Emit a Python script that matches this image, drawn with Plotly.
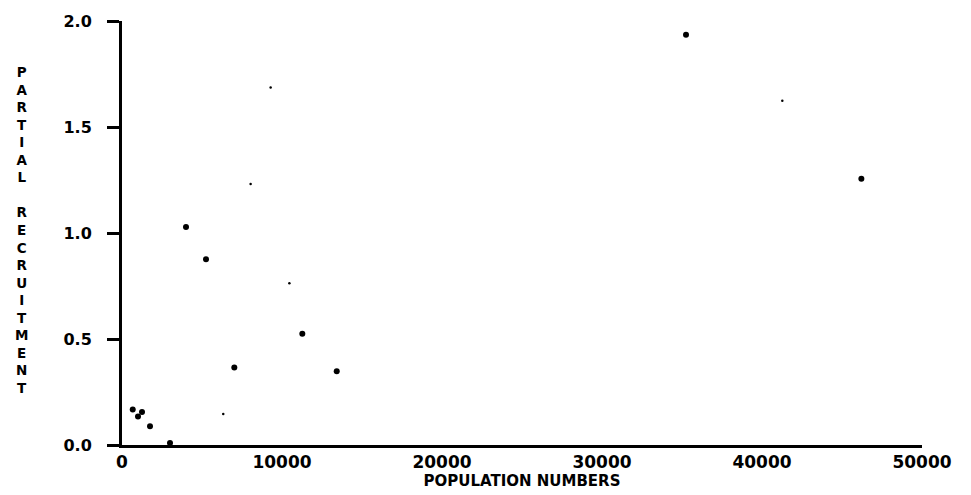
import plotly.graph_objects as go

# Partial recruitment against population numbers
large_x = [670, 1000, 1250, 1750, 3000, 4000, 5250, 7020, 11270, 13420, 35250, 46210]
large_y = [0.167, 0.135, 0.156, 0.088, 0.01, 1.028, 0.876, 0.366, 0.525, 0.348, 1.935, 1.256]

small_x = [6330, 8040, 9290, 10460, 41270]
small_y = [0.146, 1.231, 1.686, 0.763, 1.624]

x_ticks = [0, 10000, 20000, 30000, 40000, 50000]
y_ticks = [0.0, 0.5, 1.0, 1.5, 2.0]
y_title = "PARTIAL RECRUITMENT"
x_title = "POPULATION NUMBERS"

W, H = 971, 495
M_L, M_R, M_T, M_B = 122, 49, 21, 50
PLOT_W = W - M_L - M_R
PLOT_H = H - M_T - M_B

FONT = dict(family="DejaVu Sans", color="black", weight="bold")

fig = go.Figure()
fig.add_trace(go.Scatter(
    x=large_x, y=large_y, mode="markers",
    marker=dict(size=6, color="black"), showlegend=False,
))
fig.add_trace(go.Scatter(
    x=small_x, y=small_y, mode="markers",
    marker=dict(size=2.5, color="black"), showlegend=False,
))

# Y-axis title drawn as a column of upright letters
stacked = "<br>".join(ch if ch != " " else " " for ch in y_title)
fig.add_annotation(
    text=stacked, xref="paper", yref="paper",
    x=(21 - M_L) / PLOT_W, y=(H - M_B - 230) / PLOT_H,
    xanchor="center", yanchor="middle", showarrow=False, align="center",
    font=dict(FONT, size=13.5),
)

fig.update_layout(
    width=W, height=H,
    margin=dict(l=M_L, r=M_R, t=M_T, b=M_B),
    paper_bgcolor="white", plot_bgcolor="white",
    xaxis=dict(
        range=[0, 50000], tickvals=x_ticks,
        ticktext=[str(v) for v in x_ticks],
        showline=True, linecolor="black", linewidth=3,
        ticks="", showgrid=False, zeroline=False,
        tickfont=dict(FONT, size=17),
        title=dict(text=x_title, font=dict(FONT, size=15), standoff=0),
    ),
    yaxis=dict(
        range=[0, 2.0], tickvals=y_ticks,
        ticktext=[f"{v:.1f}" for v in y_ticks],
        showline=True, linecolor="black", linewidth=3,
        ticks="outside", ticklen=12, tickwidth=3, tickcolor="black",
        ticklabelstandoff=12,
        showgrid=False, zeroline=False,
        tickfont=dict(FONT, size=16),
    ),
)

fig.write_html("out.html")
